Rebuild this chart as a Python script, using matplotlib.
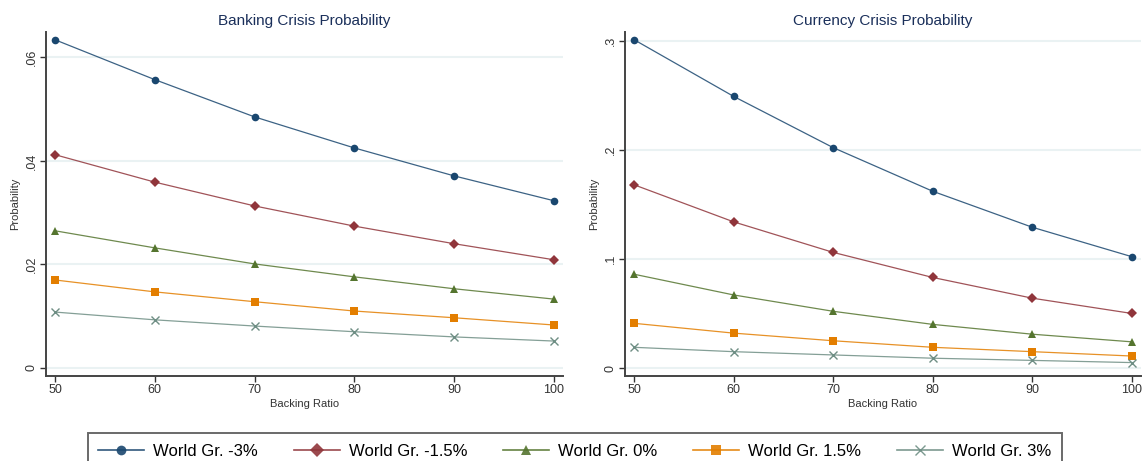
import matplotlib
matplotlib.use("Agg")
import matplotlib.pyplot as plt
from matplotlib.ticker import FuncFormatter

plt.rcParams['font.family'] = ['Liberation Sans', 'DejaVu Sans']

# Data
backing_ratio = [50, 60, 70, 80, 90, 100]
series_labels = ['World Gr. -3%', 'World Gr. -1.5%', 'World Gr. 0%',
                 'World Gr. 1.5%', 'World Gr. 3%']

banking_m3 = [0.0634, 0.0557, 0.0485, 0.0425, 0.0371, 0.0323]
banking_m15 = [0.0412, 0.0359, 0.0313, 0.0274, 0.0240, 0.0209]
banking_0 = [0.0265, 0.0232, 0.0201, 0.0176, 0.0153, 0.0133]
banking_15 = [0.0170, 0.0147, 0.0128, 0.0110, 0.0097, 0.0083]
banking_3 = [0.0108, 0.0093, 0.0081, 0.0070, 0.0060, 0.0052]

currency_m3 = [0.301, 0.249, 0.202, 0.162, 0.129, 0.102]
currency_m15 = [0.168, 0.134, 0.106, 0.083, 0.064, 0.050]
currency_0 = [0.086, 0.067, 0.052, 0.040, 0.031, 0.024]
currency_15 = [0.041, 0.032, 0.025, 0.019, 0.015, 0.011]
currency_3 = [0.019, 0.015, 0.012, 0.009, 0.007, 0.005]

banking_ticks = [0, 0.02, 0.04, 0.06]
currency_ticks = [0, 0.1, 0.2, 0.3]

# Stata s2color look
colors = ['#1a476f', '#90353b', '#55752f', '#e37e00', '#6e8e84']
markers = ['o', 'D', '^', 's', 'x']
msizes = [5.5, 5.5, 6, 5.5, 6]


def stata_fmt(v, pos):
    if abs(v) < 1e-12:
        return '0'
    return ('%g' % v).replace('0.', '.')


def draw_panel(ax, series, ticks, ylim, title):
    for vals, c, m, ms, lab in zip(series, colors, markers, msizes, series_labels):
        ax.plot(backing_ratio, vals, color=c, lw=0.9, alpha=0.85,
                label=lab, zorder=3)
        ax.plot(backing_ratio, vals, ls='none', color=c, marker=m, ms=ms,
                markeredgewidth=1.0 if m == 'x' else 0, zorder=4)
    ax.set_xlim(49.1, 100.9)
    ax.set_ylim(*ylim)
    ax.set_xticks(backing_ratio)
    ax.set_yticks(ticks)
    ax.yaxis.set_major_formatter(FuncFormatter(stata_fmt))
    for t in ax.get_yticklabels():
        t.set_rotation(90)
        t.set_va('center')
    ax.grid(axis='y', color='#eaf2f3', lw=1.5, zorder=0)
    for s in ['top', 'right']:
        ax.spines[s].set_visible(False)
    for s in ['left', 'bottom']:
        ax.spines[s].set_color('#444444')
        ax.spines[s].set_linewidth(1.4)
    ax.tick_params(axis='both', labelsize=9, colors='#333333', length=4,
                   width=1.0, pad=2)
    ax.set_title(title, fontsize=11, color='#1a2f5a', pad=5)
    ax.set_xlabel('Backing Ratio', fontsize=8, color='#333333', labelpad=2)
    ax.set_ylabel('Probability', fontsize=8, color='#333333', labelpad=4)


fig = plt.figure(figsize=(11.43, 4.61), dpi=100)
ax1 = fig.add_axes([46 / 1143, 1 - 376 / 461, (563 - 46) / 1143, (376 - 32) / 461])
ax2 = fig.add_axes([625 / 1143, 1 - 376 / 461, (1141 - 625) / 1143, (376 - 32) / 461])

draw_panel(ax1, [banking_m3, banking_m15, banking_0, banking_15, banking_3],
           banking_ticks, (-0.00155, 0.0649), 'Banking Crisis Probability')
draw_panel(ax2, [currency_m3, currency_m15, currency_0, currency_15, currency_3],
           currency_ticks, (-0.0073, 0.308), 'Currency Crisis Probability')

# legend entries: line with marker in the middle, like Stata
handles = [plt.Line2D([], [], color=c, lw=1.2, alpha=0.9, marker=m, ms=ms + 1.5,
                      markeredgewidth=1.0 if m == 'x' else 0)
           for c, m, ms in zip(colors, markers, msizes)]
leg = fig.legend(handles, series_labels, loc='upper center', ncol=5,
                 bbox_to_anchor=(575 / 1143, 1 - 433 / 461), fontsize=12,
                 frameon=True, fancybox=False, handlelength=2.75,
                 columnspacing=2.15, handletextpad=0.55, borderpad=0.65,
                 borderaxespad=0)
leg.get_frame().set_edgecolor('#444444')
leg.get_frame().set_linewidth(1.4)

fig.savefig('out.png', dpi=100, facecolor='white')
